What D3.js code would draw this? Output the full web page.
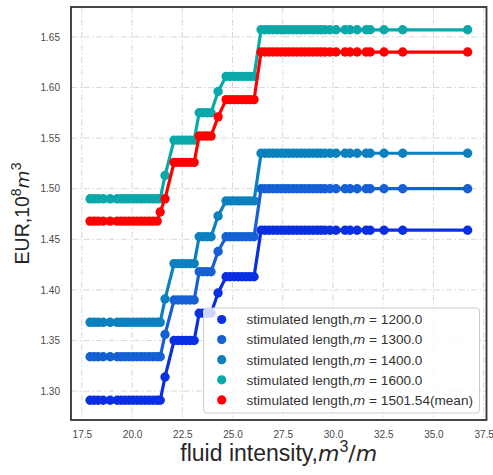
<!DOCTYPE html>
<html>
<head>
<meta charset="utf-8">
<script src="https://cdn.jsdelivr.net/npm/d3@7"></script>
<style>
  html, body { margin: 0; padding: 0; background: #ffffff; }
  svg { display: block; }
  text { font-family: "Liberation Sans", Arial, sans-serif; }
</style>
</head>
<body>
<div id="chart"></div>
<script>
// ---------------- data ----------------
const fluidIntensity = [17.91, 18.11, 18.31, 18.56, 18.91, 19.26, 19.46, 19.65, 19.85, 20.05,
  20.25, 20.45, 20.65, 20.85, 21.05, 21.25, 21.40, 21.64,
  22.09, 22.29, 22.49, 22.69, 22.89, 23.09,
  23.34, 23.54, 23.73, 23.93,
  24.28,
  24.68, 24.88, 25.08, 25.28, 25.48, 25.68, 25.87, 26.07,
  26.42, 26.62, 26.82, 27.02, 27.22, 27.42, 27.62, 27.81, 28.01, 28.21, 28.41, 28.61, 28.81,
  29.01, 29.21, 29.40, 29.60, 29.85, 30.15, 30.60, 30.85, 31.20, 31.65, 31.85, 32.54, 33.47, 36.70];

const eur1200 = [1.291,1.291,1.291,1.291,1.291,1.291,1.291,1.291,1.291,1.291,
  1.291,1.291,1.291,1.291,1.291,1.291,1.291,1.314,
  1.350,1.350,1.350,1.350,1.350,1.350,
  1.377,1.377,1.377,1.377,
  1.397,
  1.413,1.413,1.413,1.413,1.413,1.413,1.413,1.413,
  1.459,1.459,1.459,1.459,1.459,1.459,1.459,1.459,1.459,1.459,1.459,1.459,1.459,
  1.459,1.459,1.459,1.459,1.459,1.459,1.459,1.459,1.459,1.459,1.459,1.459,1.459,1.459];

const eur1300 = [1.334,1.334,1.334,1.334,1.334,1.334,1.334,1.334,1.334,1.334,
  1.334,1.334,1.334,1.334,1.334,1.334,1.334,1.356,
  1.390,1.390,1.390,1.390,1.390,1.390,
  1.418,1.418,1.418,1.418,
  1.438,
  1.4525,1.4525,1.4525,1.4525,1.4525,1.4525,1.4525,1.4525,
  1.500,1.500,1.500,1.500,1.500,1.500,1.500,1.500,1.500,1.500,1.500,1.500,1.500,
  1.500,1.500,1.500,1.500,1.500,1.500,1.500,1.500,1.500,1.500,1.500,1.500,1.500,1.500];

const eur1400 = [1.368,1.368,1.368,1.368,1.368,1.368,1.368,1.368,1.368,1.368,
  1.368,1.368,1.368,1.368,1.368,1.368,1.368,1.391,
  1.426,1.426,1.426,1.426,1.426,1.426,
  1.4525,1.4525,1.4525,1.4525,
  1.473,
  1.488,1.488,1.488,1.488,1.488,1.488,1.488,1.488,
  1.535,1.535,1.535,1.535,1.535,1.535,1.535,1.535,1.535,1.535,1.535,1.535,1.535,
  1.535,1.535,1.535,1.535,1.535,1.535,1.535,1.535,1.535,1.535,1.535,1.535,1.535,1.535];

const eur1600 = [1.490,1.490,1.490,1.490,1.490,1.490,1.490,1.490,1.490,1.490,
  1.490,1.490,1.490,1.490,1.490,1.490,1.490,1.513,
  1.548,1.548,1.548,1.548,1.548,1.548,
  1.575,1.575,1.575,1.575,
  1.596,
  1.611,1.611,1.611,1.611,1.611,1.611,1.611,1.611,
  1.657,1.657,1.657,1.657,1.657,1.657,1.657,1.657,1.657,1.657,1.657,1.657,1.657,
  1.657,1.657,1.657,1.657,1.657,1.657,1.657,1.657,1.657,1.657,1.657,1.657,1.657,1.657];

const eurMean = [1.468,1.468,1.468,1.468,1.468,1.468,1.468,1.468,1.468,1.468,
  1.468,1.468,1.468,1.468,1.468,1.468,1.477,1.490,
  1.526,1.526,1.526,1.526,1.526,1.526,
  1.552,1.552,1.552,1.552,
  1.571,
  1.588,1.588,1.588,1.588,1.588,1.588,1.588,1.588,
  1.635,1.635,1.635,1.635,1.635,1.635,1.635,1.635,1.635,1.635,1.635,1.635,1.635,
  1.635,1.635,1.635,1.635,1.635,1.635,1.635,1.635,1.635,1.635,1.635,1.635,1.635,1.635];

const seriesNames = ["1200.0", "1300.0", "1400.0", "1600.0", "1501.54(mean)"];
const seriesValues = [eur1200, eur1300, eur1400, eur1600, eurMean];
const seriesColors = ["#0a2fe3", "#1460d4", "#0a80bf", "#0aa8a8", "#ff0000"];

const xTicks = [17.5, 20.0, 22.5, 25.0, 27.5, 30.0, 32.5, 35.0, 37.5];
const yTicks = [1.30, 1.35, 1.40, 1.45, 1.50, 1.55, 1.60, 1.65];

// ---------------- layout ----------------
const W = 493, H = 475;
const plot = { left: 71, right: 486.5, top: 7, bottom: 420 };

const svg = d3.select("#chart").append("svg")
  .attr("width", W).attr("height", H);

const x = d3.scaleLinear().domain([16.96, 37.64]).range([plot.left, plot.right]);
const y = d3.scaleLinear().domain([1.2715, 1.6795]).range([plot.bottom, plot.top]);

// grid
const grid = svg.append("g");
grid.selectAll("line.gx").data(xTicks).enter().append("line")
  .attr("x1", d => x(d)).attr("x2", d => x(d))
  .attr("y1", plot.top).attr("y2", plot.bottom)
  .attr("stroke", "#d8d8d8").attr("stroke-width", 1)
  .attr("stroke-dasharray", "6,2.5,1.5,2.5");
grid.selectAll("line.gy").data(yTicks).enter().append("line")
  .attr("y1", d => y(d)).attr("y2", d => y(d))
  .attr("x1", plot.left).attr("x2", plot.right)
  .attr("stroke", "#d8d8d8").attr("stroke-width", 1)
  .attr("stroke-dasharray", "6,2.5,1.5,2.5");

// axes (labels only, no tick marks)
const xAxis = svg.append("g")
  .attr("transform", `translate(0,${plot.bottom})`)
  .call(d3.axisBottom(x).tickValues(xTicks).tickFormat(d3.format(".1f")).tickSize(0).tickPadding(11));
xAxis.select(".domain").remove();
xAxis.selectAll("text").attr("font-size", 10).attr("fill", "#4a4a4a")
  .attr("font-family", "'Liberation Sans', Arial, sans-serif");

const yAxis = svg.append("g")
  .attr("transform", `translate(${plot.left},0)`)
  .call(d3.axisLeft(y).tickValues(yTicks).tickFormat(d3.format(".2f")).tickSize(0).tickPadding(11));
yAxis.select(".domain").remove();
yAxis.selectAll("text").attr("font-size", 10).attr("fill", "#4a4a4a")
  .attr("font-family", "'Liberation Sans', Arial, sans-serif");

// clip
svg.append("clipPath").attr("id", "clip").append("rect")
  .attr("x", plot.left).attr("y", plot.top)
  .attr("width", plot.right - plot.left).attr("height", plot.bottom - plot.top);

const line = d3.line().x(d => x(d[0])).y(d => y(d[1]));
const dataG = svg.append("g").attr("clip-path", "url(#clip)");

seriesValues.forEach((vals, i) => {
  const pts = fluidIntensity.map((fx, j) => [fx, vals[j]]);
  const g = dataG.append("g");
  g.append("path").datum(pts)
    .attr("d", line)
    .attr("fill", "none")
    .attr("stroke", seriesColors[i])
    .attr("stroke-width", 3.2)
    .attr("stroke-linejoin", "round")
    .attr("stroke-linecap", "round");
  g.selectAll("circle").data(pts).enter().append("circle")
    .attr("cx", d => x(d[0])).attr("cy", d => y(d[1]))
    .attr("r", 4.7)
    .attr("fill", seriesColors[i]);
});

// frame
svg.append("rect")
  .attr("x", plot.left).attr("y", plot.top)
  .attr("width", plot.right - plot.left).attr("height", plot.bottom - plot.top)
  .attr("fill", "none").attr("stroke", "#333333").attr("stroke-width", 1.8);

// legend
const lg = svg.append("g");
lg.append("rect")
  .attr("x", 203.5).attr("y", 308).attr("width", 276).attr("height", 105)
  .attr("rx", 3).attr("ry", 3)
  .attr("fill", "#ffffff").attr("fill-opacity", 0.8)
  .attr("stroke", "#cccccc").attr("stroke-width", 1);

seriesNames.forEach((name, i) => {
  const cy = 319.5 + i * 20.1;
  lg.append("circle").attr("cx", 221.7).attr("cy", cy).attr("r", 4.6).attr("fill", seriesColors[i]);
  const t = lg.append("text").attr("x", 246.5).attr("y", cy + 4.8)
    .attr("font-size", 13.6).attr("fill", "#333333");
  t.append("tspan").text("stimulated length,");
  t.append("tspan").attr("font-style", "italic").attr("font-family", "'DejaVu Sans', sans-serif").attr("font-size", 12.6).text("m");
  t.append("tspan").text(" = " + name);
});

// x label
const xl = svg.append("text")
  .attr("x", (plot.left + plot.right) / 2).attr("y", 461)
  .attr("text-anchor", "middle").attr("font-size", 23).attr("fill", "#262626");
xl.append("tspan").text("fluid intensity,");
xl.append("tspan").attr("font-style", "italic").attr("font-family", "'DejaVu Sans', sans-serif").attr("font-size", 22).text("m");
xl.append("tspan").attr("font-size", 16).attr("dy", -9).text("3");
xl.append("tspan").attr("dy", 9).attr("font-family", "'DejaVu Sans', sans-serif").attr("font-size", 22).text("/");
xl.append("tspan").attr("font-style", "italic").attr("font-family", "'DejaVu Sans', sans-serif").attr("font-size", 22).text("m");

// y label
const yl = svg.append("text")
  .attr("transform", `translate(29,${(plot.top + plot.bottom) / 2}) rotate(-90)`)
  .attr("text-anchor", "middle").attr("font-size", 19.5).attr("fill", "#262626");
yl.append("tspan").text("EUR,10");
yl.append("tspan").attr("font-size", 14).attr("dy", -8).text("8");
yl.append("tspan").attr("dy", 8).attr("font-style", "italic").attr("font-family", "'DejaVu Sans', sans-serif").attr("font-size", 18.5).text("m");
yl.append("tspan").attr("font-size", 14).attr("dy", -8).text("3");
</script>
</body>
</html>
